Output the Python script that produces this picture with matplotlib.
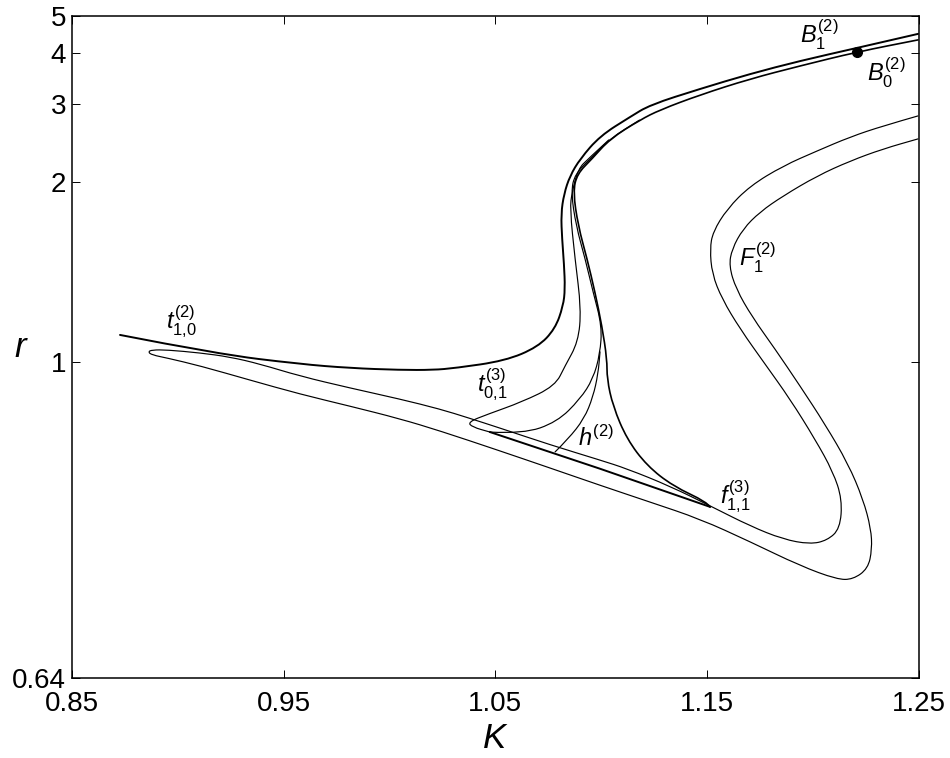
import numpy as np
import matplotlib
matplotlib.use('Agg')
import matplotlib.pyplot as plt
from matplotlib.path import Path
from matplotlib.patches import PathPatch

plt.rcParams['font.family'] = ['Liberation Sans', 'DejaVu Sans']
plt.rcParams['mathtext.fontset'] = 'custom'
plt.rcParams['mathtext.rm'] = 'Liberation Sans'
plt.rcParams['mathtext.it'] = 'Liberation Sans:italic'

# r axis is drawn on log(r - R0)
R0 = 0.594

# t_{1,0}^{(2)} branch, continues as B_1^{(2)}
t10_K = [0.8728, 0.9186, 0.9578, 0.9814, 1.005, 1.0206, 1.031, 1.0546, 1.0701,
         1.0782, 1.082, 1.0829, 1.0824, 1.0815, 1.081, 1.0824, 1.0852, 1.09,
         1.0994, 1.1136, 1.123, 1.1466, 1.1702, 1.1938, 1.2208, 1.2495]
t10_r = [1.084, 1.024, 0.995, 0.984, 0.979, 0.979, 0.984, 1.004, 1.045,
         1.105, 1.192, 1.267, 1.393, 1.543, 1.722, 1.888, 2.059, 2.241,
         2.523, 2.793, 2.983, 3.261, 3.551, 3.828, 4.131, 4.489]

# F_1^{(2)}: upper arm, left diagonal, middle line to the left tip,
# lower line back, right diagonal, lower arm
F1_K = [1.2495, 1.233, 1.2175, 1.2019, 1.1858, 1.1702, 1.1594, 1.1527, 1.1513,
        1.1523, 1.1570, 1.1655, 1.1773, 1.1891, 1.2009, 1.2094, 1.2137, 1.2127,
        1.2066, 1.1985, 1.1858, 1.1702, 1.1523,
        1.1324, 1.1121, 1.0994, 1.0758, 1.0522, 1.0371, 1.0239, 1.005, 0.9814,
        0.9578, 0.9389, 0.9247, 0.9106, 0.895, 0.8879, 0.886,
        0.8879, 0.895, 0.9106, 0.9342, 0.9578, 0.9814, 1.005, 1.0239, 1.0508,
        1.0758, 1.0994, 1.123, 1.1466, 1.1702, 1.1938, 1.2113, 1.2188, 1.2259,
        1.2278, 1.2273, 1.2236,
        1.2165, 1.2056, 1.1938, 1.182, 1.1712, 1.1636, 1.1603, 1.1617, 1.1669,
        1.1749, 1.1858, 1.2019, 1.2175, 1.233, 1.2495]
F1_r = [2.808, 2.661, 2.510, 2.334, 2.163, 1.961, 1.761, 1.590, 1.480,
        1.340, 1.222, 1.105, 0.995, 0.909, 0.833, 0.785, 0.752, 0.723,
        0.713, 0.710, 0.714, 0.7255, 0.744,
        0.767, 0.789, 0.801, 0.824, 0.852, 0.871, 0.888, 0.909, 0.934,
        0.963, 0.995, 1.015, 1.027, 1.036, 1.036, 1.030,
        1.021, 1.012, 0.990, 0.953, 0.920, 0.894, 0.869, 0.847, 0.816,
        0.790, 0.768, 0.749, 0.732, 0.712, 0.694, 0.685, 0.685, 0.692,
        0.706, 0.723, 0.752,
        0.796, 0.859, 0.939, 1.039, 1.149, 1.267, 1.382, 1.480, 1.611,
        1.737, 1.870, 2.059, 2.218, 2.358, 2.484]

# t_{0,1}^{(3)} branch (top end runs into B_0^{(2)})
t01_K = [1.1035, 1.0938, 1.0891, 1.0862, 1.0852, 1.0876, 1.0905, 1.0891,
         1.0829, 1.0782, 1.0626, 1.0465, 1.0371, 1.039, 1.0475]
t01_r = [2.47, 2.241, 2.131, 1.906, 1.761, 1.421, 1.180, 1.061,
         0.990, 0.939, 0.903, 0.878, 0.863, 0.854, 0.845]

# double segment ending at f_{1,1}^{(3)}
f11_K = [1.0475, 1.0994, 1.1513]
f11_r = [0.845, 0.789, 0.744]

# branch leaving the t_{0,1} loop upwards
loop_K = [1.0475, 1.0631, 1.0791, 1.09, 1.0961, 1.0994, 1.1003, 1.0961,
          1.0924, 1.0881, 1.0857, 1.0876, 1.0952, 1.1037, 1.1180]
loop_r = [0.845, 0.842, 0.863, 0.909, 0.956, 1.024, 1.115, 1.253,
          1.421, 1.632, 1.906, 2.079, 2.250, 2.480, 2.745]

# branch from the cusp up to B_0^{(2)}
B0_K = [1.1513, 1.1499, 1.1339, 1.1216, 1.1121, 1.1055, 1.1027, 1.1027,
        1.1003, 1.097, 1.0933, 1.0891, 1.0867, 1.0886, 1.0956, 1.1041,
        1.1183, 1.1277, 1.1466, 1.1702, 1.1938, 1.2208, 1.2495]
B0_r = [0.744, 0.749, 0.767, 0.793, 0.833, 0.894, 0.956, 1.009,
        1.115, 1.253, 1.421, 1.632, 1.906, 2.079, 2.241, 2.484,
        2.748, 2.902, 3.153, 3.451, 3.718, 4.035, 4.331]

# h^{(2)}
h2_K = [1.0782, 1.0843, 1.0919, 1.0961, 1.0985, 1.0994]
h2_r = [0.813, 0.833, 0.869, 0.914, 0.969, 1.030]

dot_K, dot_r = 1.2208, 4.035

xticks = [0.85, 0.95, 1.05, 1.15, 1.25]
yticks = [0.64, 1, 2, 3, 4, 5]
ytick_labels = ['0.64', '1', '2', '3', '4', '5']


def smooth_curve(ax, K, r, lw):
    """Quadratic Bezier path through the read points (rounds the corners)."""
    K = np.asarray(K, float)
    r = np.asarray(r, float)
    verts = [(K[0], r[0])]
    codes = [Path.MOVETO]
    for i in range(1, len(K) - 1):
        # midpoint taken on the drawn (log) scale
        km = 0.5 * (K[i] + K[i + 1])
        rm = R0 + np.sqrt((r[i] - R0) * (r[i + 1] - R0))
        verts += [(K[i], r[i]), (km, rm)]
        codes += [Path.CURVE3, Path.CURVE3]
    verts.append((K[-1], r[-1]))
    codes.append(Path.LINETO)
    ax.add_patch(PathPatch(Path(verts, codes), fill=False, ec='k', lw=lw,
                           capstyle='round', joinstyle='round'))


fig = plt.figure(figsize=(9.5, 7.58), dpi=100)
ax = fig.add_axes([0.0755, 0.1049, 0.8919, 0.874])

ax.set_yscale('function', functions=(lambda r: np.log(np.maximum(r - R0, 1e-9)),
                                     lambda u: np.exp(u) + R0))
ax.set_xlim(0.85, 1.25)
ax.set_ylim(0.64, 5)

thin = 0.85
thick = 1.4
smooth_curve(ax, t10_K, t10_r, thick)
smooth_curve(ax, F1_K, F1_r, thin)
smooth_curve(ax, t01_K, t01_r, thin)
ax.plot(f11_K, f11_r, color='k', lw=thick)
smooth_curve(ax, loop_K, loop_r, thin)
smooth_curve(ax, B0_K, B0_r, 1.2)
smooth_curve(ax, h2_K, h2_r, thin)
ax.plot([dot_K], [dot_r], 'o', color='k', ms=7)

ax.set_xticks(xticks)
ax.set_xticklabels(['%.2f' % k for k in xticks])
ax.set_yticks(yticks)
ax.set_yticklabels(ytick_labels)
ax.minorticks_off()
ax.tick_params(direction='in', top=True, right=True, length=6, width=0.7,
               labelsize=20)
ax.tick_params(axis='x', pad=9)
ax.tick_params(axis='y', pad=4)
for s in ax.spines.values():
    s.set_linewidth(1.1)

ax.set_xlabel('$K$', fontsize=25)
ax.xaxis.set_label_coords(0.5, -0.09)
ax.xaxis.label.set_va('center')
ax.set_ylabel('$r$', fontsize=25, rotation=0, ha='center', va='center')
ax.yaxis.set_label_coords(-0.06, 0.5)

lab = dict(transform=ax.transAxes, fontsize=17, ha='center', va='center')
ax.text(0.130, 0.538, '$t_{1{,}0}^{(2)}$', **lab)
ax.text(0.496, 0.443, '$t_{0{,}1}^{(3)}$', **lab)
ax.text(0.619, 0.363, '$h^{(2)}$', **lab)
ax.text(0.783, 0.274, '$f_{1{,}1}^{(3)}$', **lab)
ax.text(0.810, 0.635, '$F_1^{(2)}$', **lab)
ax.text(0.882, 0.971, '$B_1^{(2)}$', **lab)
ax.text(0.961, 0.914, '$B_0^{(2)}$', **lab)

fig.savefig('out.png', dpi=100)
